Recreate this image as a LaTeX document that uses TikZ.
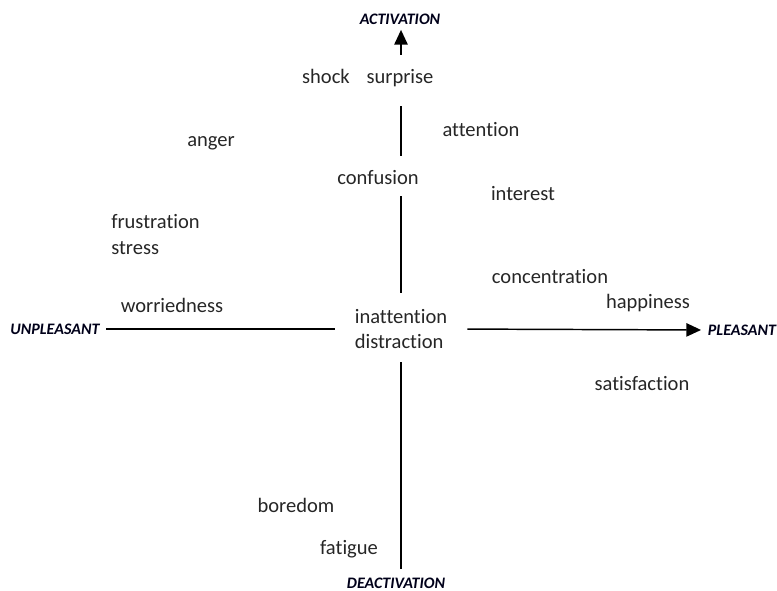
\documentclass[tikz,border=0pt]{standalone}
\usepackage{fontspec}
\setmainfont{Carlito}[Ligatures={NoCommon,NoRare,NoContextual}]
\usetikzlibrary{positioning,arrows.meta}

\begin{document}
\begin{tikzpicture}[
  x=0.75pt,y=-0.75pt,
  every node/.style={font=\fontsize{15.4pt}{18.75pt}\selectfont,text=black!85},
  feel/.style={inner sep=0pt,anchor=base},
  pole/.style={font=\fontsize{12pt}{14pt}\selectfont\bfseries\itshape,text=black!90!blue,inner sep=0pt},
  axis/.style={black,line width=1.1pt},
  tip/.style={-{Triangle[length=11pt,width=10pt]}}
]
\useasboundingbox (0,0) rectangle (777,591);

% Pole der Achsen
\node[pole] (activation) at (400,19) {ACTIVATION};
\node[pole] (deactivation) at (396,583) {DEACTIVATION};
\node[pole] (unpleasant) at (55,329) {UNPLEASANT};
\node[pole] (pleasant) at (742,330) {PLEASANT};

% Mitte
\node[inner sep=0pt,align=left] (mid) at (401,329) {inattention\\distraction};

% oben
\node[feel] (shock) at (326,84) {shock};
\node[feel] (surprise) at (400,84) {surprise};
\node[feel] (confusion) at (378,185) {confusion};
\node[feel] (attention) at (481,137) {attention};
\node[feel] (interest) at (523,201) {interest};
\node[feel] (anger) at (211,147) {anger};
\node[feel,anchor=base west] (frustration) at (111,229) {frustration};
\node[feel,anchor=base west] (stress) at (111,255) {stress};
\node[feel] (concentration) at (550,284) {concentration};
\node[feel] (happiness) at (648,309) {happiness};
\node[feel] (worriedness) at (172,312) {worriedness};

% unten
\node[feel] (satisfaction) at (642,390) {satisfaction};
\node[feel] (boredom) at (296,512) {boredom};
\node[feel] (fatigue) at (349,554) {fatigue};

% Achsen
\draw[axis,tip,shorten <=11pt,shorten >=4pt] (surprise.north -| mid) -- (activation.south -| mid);
\draw[axis,shorten <=14pt,shorten >=11pt] (surprise.south -| mid) -- (confusion.north -| mid);
\draw[axis,shorten <=8pt,shorten >=12pt] (confusion.south -| mid) -- (mid.north);
\draw[axis,shorten <=10pt,shorten >=6pt] (mid.south) -- (deactivation.north -| mid);
\draw[axis,shorten <=5pt,shorten >=15pt] (unpleasant.east) -- (mid.west);
\draw[axis,tip,shorten <=15pt,shorten >=5pt] (mid.east) -- (pleasant.west);

\end{tikzpicture}
\end{document}
